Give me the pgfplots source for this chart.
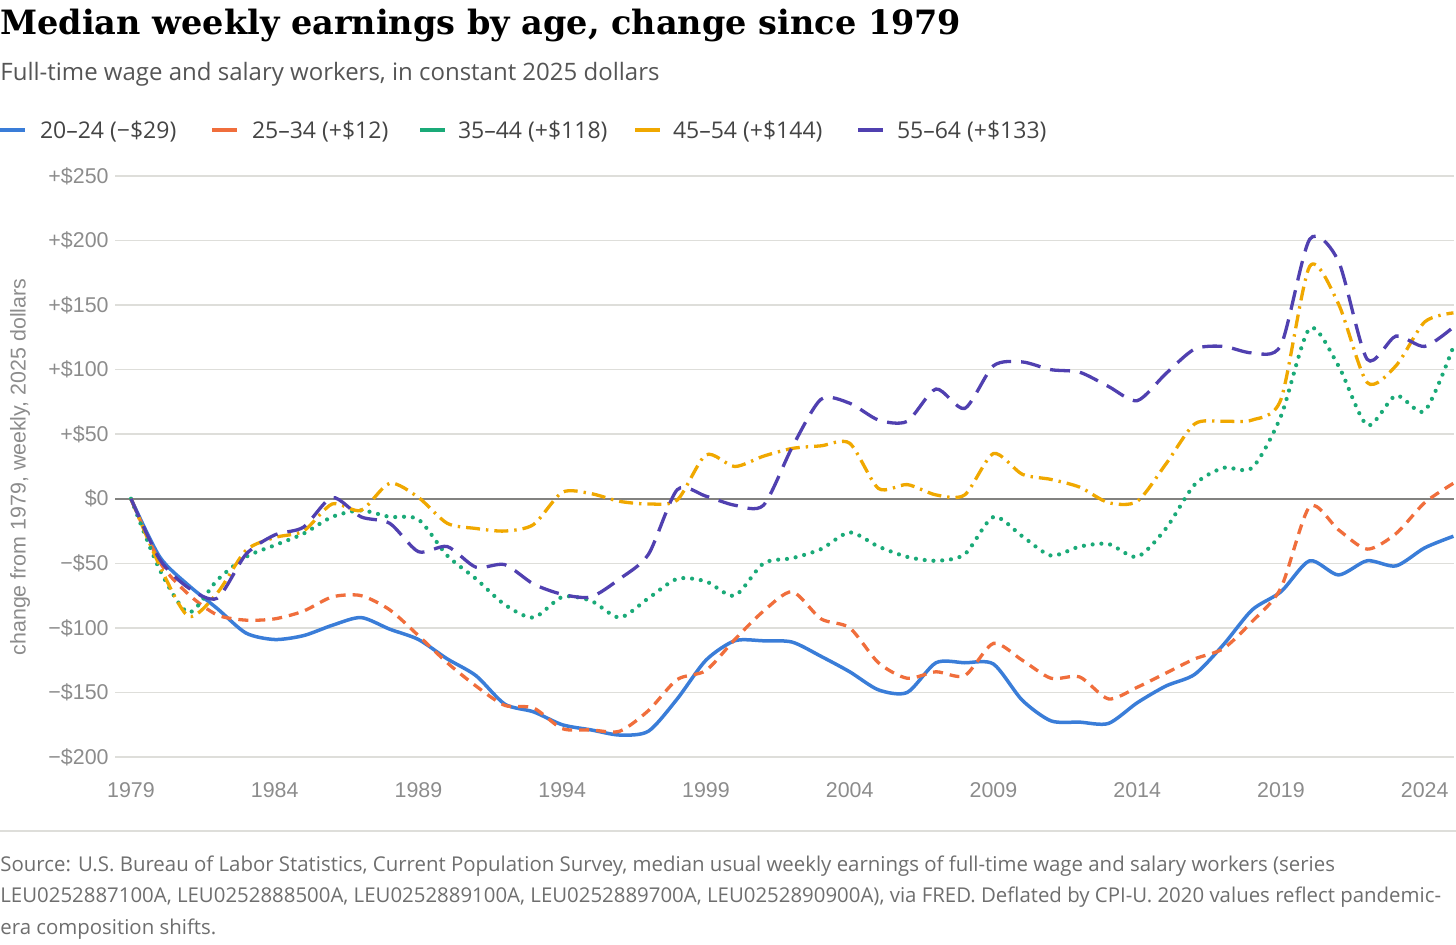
\documentclass[border=0pt]{standalone}
\usepackage{fontspec}
\usepackage{pgfplots}
\pgfplotsset{compat=1.18}
\setmainfont{Open Sans}
\newfontfamily\titlefont{DejaVu Serif}
\newfontfamily\arialfont{Liberation Sans}
\definecolor{cblue}{RGB}{58,125,216}
\definecolor{corange}{RGB}{240,110,60}
\definecolor{cgreen}{RGB}{26,170,120}
\definecolor{cyellow}{RGB}{240,168,0}
\definecolor{cpurple}{RGB}{80,64,176}
\definecolor{gridc}{RGB}{222,222,218}
\definecolor{zeroc}{RGB}{130,130,128}
\definecolor{tickc}{RGB}{140,140,140}
\definecolor{subc}{RGB}{85,85,85}
\definecolor{legc}{RGB}{68,68,68}
\definecolor{footc}{RGB}{110,110,110}

\pgfplotstableread{
year a b c d e
1979 0 0 0 0 0
1980 -45 -49 -55 -52 -47
1981 -67 -74 -88 -91 -69
1982 -85 -90 -63 -73 -77
1983 -104 -94 -45 -40 -43
1984 -109 -93 -36 -30 -28
1985 -106 -87 -27 -25 -22
1986 -98 -76 -14 -4 1
1987 -92 -75 -9 -9 -14
1988 -101 -86 -14 12 -19
1989 -109 -106 -16 1 -41
1990 -124 -127 -44 -19 -37
1991 -137 -145 -62 -23 -53
1992 -159 -160 -82 -25 -51
1993 -165 -162 -92 -20 -66
1994 -175 -178 -76 5 -74
1995 -179 -179 -79 4 -76
1996 -183 -180 -92 -2 -62
1997 -180 -164 -77 -4 -43
1998 -155 -140 -62 -1 7
1999 -125 -133 -64 34 2
2000 -110 -109 -75 25 -5
2001 -110 -87 -50 33 -5
2002 -111 -72 -46 39 40
2003 -122 -93 -39 41 77
2004 -134 -100 -26 43 74
2005 -148 -127 -37 8 61
2006 -150 -139 -45 11 60
2007 -127 -134 -48 3 85
2008 -127 -137 -43 3 70
2009 -128 -112 -14 35 103
2010 -156 -125 -29 19 106
2011 -172 -139 -44 15 100
2012 -173 -138 -37 9 98
2013 -174 -155 -35 -3 87
2014 -158 -146 -45 -2 76
2015 -145 -135 -23 27 97
2016 -136 -124 11 58 116
2017 -113 -116 24 60 118
2018 -86 -95 24 61 113
2019 -72 -69 64 77 119
2020 -48 -6 132 180 201
2021 -59 -24 103 151 184
2022 -48 -39 57 90 108
2023 -52 -27 80 103 126
2024 -38 -3 68 137 118
2025 -29 12 118 144 133
}\datatable

\begin{document}
\begin{tikzpicture}
\path[use as bounding box] (0,0) rectangle (728pt,472pt);
% title and subtitle
\node[anchor=base west, inner sep=0] at (0,454.5pt) {\titlefont\bfseries\fontsize{16.75}{18}\selectfont Median weekly earnings by age, change since 1979};
\node[anchor=base west, inner sep=0, text=subc] at (0,431.5pt) {\fontsize{12}{14}\selectfont Full-time wage and salary workers, in constant 2025 dollars};
% legend
\begin{scope}[line width=2pt]
\draw[cblue] (0,407pt) -- (12.5pt,407pt);
\node[anchor=base west, inner sep=0, text=legc] at (19pt,402.5pt) {\fontsize{11.5}{13}\selectfont 20–24 (−\$29)};
\draw[corange] (106pt,407pt) -- (118.5pt,407pt);
\node[anchor=base west, inner sep=0, text=legc] at (125pt,402.5pt) {\fontsize{11.5}{13}\selectfont 25–34 (+\$12)};
\draw[cgreen] (210pt,407pt) -- (222.5pt,407pt);
\node[anchor=base west, inner sep=0, text=legc] at (228pt,402.5pt) {\fontsize{11.5}{13}\selectfont 35–44 (+\$118)};
\draw[cyellow] (317.5pt,407pt) -- (330pt,407pt);
\node[anchor=base west, inner sep=0, text=legc] at (335.5pt,402.5pt) {\fontsize{11.5}{13}\selectfont 45–54 (+\$144)};
\draw[cpurple] (429pt,407pt) -- (441.5pt,407pt);
\node[anchor=base west, inner sep=0, text=legc] at (447.5pt,402.5pt) {\fontsize{11.5}{13}\selectfont 55–64 (+\$133)};
\end{scope}
% y axis title
\node[rotate=90, text=tickc, inner sep=0] at (10pt,238.5pt) {\arialfont\fontsize{10.7}{12}\selectfont change from 1979, weekly, 2025 dollars};

\begin{axis}[
  at={(57.5pt,93.5pt)}, anchor=south west,
  scale only axis, width=669.5pt, height=290.5pt,
  xmin=1978.444, xmax=2025.02, ymin=-200, ymax=250,
  axis line style={draw=none},
  major tick length=0pt,
  tick style={draw=none},
  ymajorgrids, grid style={gridc, line width=0.75pt},
  ytick={-200,-150,...,250},
  yticklabels={−\$200,−\$150,−\$100,−\$50,\$0,+\$50,+\$100,+\$150,+\$200,+\$250},
  xtick={1979,1984,1989,1994,1999,2004,2009,2014,2019,2024},
  xticklabels={1979,1984,1989,1994,1999,2004,2009,2014,2019,2024},
  ticklabel style={font=\arialfont\fontsize{10.7}{12}\selectfont, text=tickc},
  yticklabel style={anchor=east, inner sep=0pt, xshift=-3pt},
  xticklabel style={anchor=base, inner sep=0pt, yshift=-20pt},
  clip=false,
  every axis plot/.append style={line width=1.65pt, smooth, tension=0.45},
]
\draw[zeroc, line width=1pt] (axis cs:1978.444,0) -- (axis cs:2025.02,0);
\addplot[cblue, solid, line width=1.75pt] table[x=year, y=a] {\datatable};
\addplot[corange, dash pattern=on 5pt off 3.5pt] table[x=year, y=b] {\datatable};
\addplot[cgreen, line width=2.1pt, line cap=round, dash pattern=on 0pt off 4.4pt] table[x=year, y=c] {\datatable};
\addplot[cyellow, dash pattern=on 7pt off 3pt on 1.2pt off 3pt] table[x=year, y=d] {\datatable};
\addplot[cpurple, dash pattern=on 10pt off 5pt] table[x=year, y=e] {\datatable};
\end{axis}

% footer
\draw[gridc, line width=1pt] (0,56.5pt) -- (728pt,56.5pt);
\begin{scope}[every node/.style={anchor=base west, inner sep=0, text=footc, font=\fontsize{10.2}{12}\selectfont}]
\node at (0,36.5pt) {Source: U.S. Bureau of Labor Statistics, Current Population Survey, median usual weekly earnings of full-time wage and salary workers (series};
\node at (0,21pt) {LEU0252887100A, LEU0252888500A, LEU0252889100A, LEU0252889700A, LEU0252890900A), via FRED. Deflated by CPI-U. 2020 values reflect pandemic-};
\node at (0,5pt) {era composition shifts.};
\end{scope}
\end{tikzpicture}
\end{document}
